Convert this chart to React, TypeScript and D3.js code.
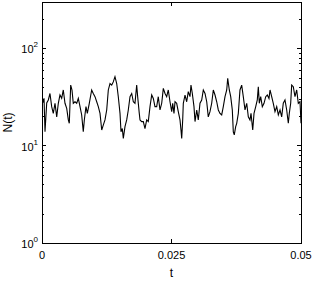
import React, { useEffect, useRef } from 'react';
import * as d3 from 'd3';

const times = [
  0.00014, 0.00039, 0.00058, 0.00091, 0.00122, 0.00154, 0.00187, 0.00218, 0.00251, 0.00284,
  0.00315, 0.00347, 0.0038, 0.00411, 0.00444, 0.00477, 0.00508, 0.00527, 0.00554, 0.00579,
  0.00604, 0.00637, 0.0067, 0.00701, 0.00734, 0.00766, 0.00797, 0.00817, 0.00849, 0.00875,
  0.00913, 0.00959, 0.0099, 0.01023, 0.01056, 0.01087, 0.0112, 0.01153, 0.01183, 0.01216,
  0.01249, 0.0128, 0.01313, 0.01346, 0.01376, 0.01409, 0.01442, 0.01473, 0.01506, 0.01525,
  0.0155, 0.0157, 0.01602, 0.01635, 0.01666, 0.01699, 0.01732, 0.01763, 0.01795, 0.01828,
  0.01847, 0.01878, 0.01892, 0.01925, 0.01956, 0.01988, 0.02021, 0.02052, 0.02085, 0.02118,
  0.02149, 0.02181, 0.02214, 0.02245, 0.02278, 0.02311, 0.02342, 0.02375, 0.02407, 0.02438,
  0.02471, 0.02504, 0.02523, 0.02548, 0.02568, 0.026, 0.02631, 0.02664, 0.02683, 0.02697,
  0.02716, 0.02728, 0.02761, 0.02793, 0.02824, 0.02857, 0.02876, 0.02902, 0.02934, 0.02954,
  0.02987, 0.03017, 0.0305, 0.03083, 0.03114, 0.03147, 0.0318, 0.0321, 0.03243, 0.03276,
  0.03307, 0.0334, 0.03373, 0.03404, 0.03436, 0.03469, 0.035, 0.03533, 0.03566, 0.03585,
  0.03616, 0.03643, 0.03674, 0.03693, 0.03712, 0.03739, 0.03759, 0.0379, 0.03822, 0.03855,
  0.03886, 0.03919, 0.03952, 0.03983, 0.04015, 0.04035, 0.04068, 0.04093, 0.04126, 0.04156,
  0.04176, 0.04195, 0.04222, 0.04253, 0.04286, 0.04319, 0.0435, 0.04382, 0.04402, 0.04434,
  0.04465, 0.04498, 0.04531, 0.04562, 0.04595, 0.04627, 0.04658, 0.04691, 0.04724, 0.04755,
  0.04774, 0.04801, 0.0482, 0.04851, 0.04884, 0.04917, 0.04948, 0.04981, 0.05,
];

// N(t)
const counts = [
  27.5, 30.7, 13.9, 27.5, 29.5, 34.4, 25.2, 21.5, 27.3, 19.8,
  27.3, 33.2, 30.7, 37.4, 27.3, 24.2, 18.4, 17.0, 42.0, 37.4,
  27.3, 28.3, 27.3, 30.6, 25.2, 20.7, 13.9, 18.4, 25.2, 21.5,
  27.3, 37.4, 34.4, 31.9, 28.3, 25.2, 21.5, 14.5, 16.3, 18.4,
  23.3, 37.4, 43.6, 42.0, 45.3, 51.3, 43.6, 31.9, 21.5, 13.9,
  15.0, 11.9, 15.7, 18.4, 23.3, 31.9, 34.4, 28.3, 27.3, 42.0,
  31.9, 21.5, 18.4, 17.7, 17.7, 15.0, 18.4, 17.7, 25.2, 33.2,
  30.6, 25.2, 25.2, 31.9, 23.3, 27.3, 38.8, 34.4, 31.9, 37.4,
  28.3, 22.4, 27.3, 21.5, 28.3, 27.3, 22.4, 18.4, 14.5, 11.9,
  18.4, 27.3, 33.2, 28.3, 36.0, 31.9, 42.0, 34.4, 25.2, 17.7,
  23.3, 18.4, 27.3, 29.5, 37.4, 34.4, 28.3, 19.8, 22.4, 27.3,
  37.4, 33.2, 28.3, 23.3, 21.5, 20.7, 25.2, 31.9, 37.4, 49.2,
  37.4, 31.9, 23.3, 13.9, 12.9, 15.7, 17.0, 21.5, 37.4, 42.0,
  31.9, 23.3, 27.3, 19.8, 18.4, 21.5, 14.5, 21.5, 25.2, 29.5,
  40.4, 27.3, 31.9, 25.2, 27.3, 31.9, 33.2, 30.6, 37.4, 31.9,
  27.3, 22.4, 25.2, 20.7, 23.3, 19.8, 27.3, 29.5, 23.3, 17.0,
  21.5, 27.3, 42.0, 40.4, 31.9, 37.4, 27.3, 28.3, 17.0,
];

const xTicks = [0, 0.025, 0.05];
const xTickLabels = ['0', '0.025', '0.05'];
const yDecades = [1, 10, 100];
const yExponents = ['0', '1', '2'];

const W = 314;
const H = 282;
const FONT = '"Liberation Sans", Arial, Helvetica, sans-serif';

export default function App() {
  const ref = useRef<SVGSVGElement>(null);

  useEffect(() => {
    const svg = d3.select(ref.current);
    svg.selectAll('*').remove();

    const left = 42, right = 301, top = 2, bottom = 243;
    const x = d3.scaleLinear().domain([0, 0.05]).range([left, right]);
    const y = d3.scaleLog().domain([1, 300]).range([bottom, top]);

    // minor ticks on the log axis
    const minor: number[] = [];
    [1, 10, 100].forEach((d) => {
      for (let k = 2; k <= 9; k++) if (d * k < 300) minor.push(d * k);
    });

    // data line
    const line = d3
      .line<number>()
      .x((_, i) => x(times[i]))
      .y((d) => y(d));
    svg
      .append('path')
      .datum(counts)
      .attr('d', line)
      .attr('fill', 'none')
      .attr('stroke', '#000')
      .attr('stroke-width', 1.1);

    const ax = svg.append('g').attr('stroke', '#000').attr('stroke-width', 1).attr('shape-rendering', 'crispEdges');

    // box
    ax.append('rect')
      .attr('x', left)
      .attr('y', top)
      .attr('width', right - left)
      .attr('height', bottom - top)
      .attr('fill', 'none');

    // y ticks, inward on both sides
    yDecades.forEach((d) => {
      ax.append('line').attr('x1', left).attr('x2', left + 4).attr('y1', y(d)).attr('y2', y(d));
      ax.append('line').attr('x1', right).attr('x2', right - 4).attr('y1', y(d)).attr('y2', y(d));
    });
    minor.forEach((d) => {
      ax.append('line').attr('x1', left).attr('x2', left + 2).attr('y1', Math.round(y(d))).attr('y2', Math.round(y(d)));
      ax.append('line').attr('x1', right).attr('x2', right - 2).attr('y1', Math.round(y(d))).attr('y2', Math.round(y(d)));
    });

    // x ticks
    xTicks.forEach((t) => {
      ax.append('line').attr('x1', x(t)).attr('x2', x(t)).attr('y1', bottom).attr('y2', bottom - 4);
      ax.append('line').attr('x1', x(t)).attr('x2', x(t)).attr('y1', top).attr('y2', top + 4);
    });

    const txt = svg.append('g').attr('font-family', FONT).attr('fill', '#000');

    xTicks.forEach((t, i) => {
      txt.append('text')
        .attr('x', x(t))
        .attr('y', bottom + 16)
        .attr('text-anchor', 'middle')
        .attr('font-size', 11)
        .text(xTickLabels[i]);
    });

    yDecades.forEach((d, i) => {
      const yy = y(d);
      const tEl = txt.append('text')
        .attr('x', left - 4)
        .attr('y', yy + 5)
        .attr('text-anchor', 'end')
        .attr('font-size', 11);
      tEl.append('tspan').text('10');
      tEl.append('tspan').attr('font-size', 8).attr('dy', -6).text(yExponents[i]);
    });

    txt.append('text')
      .attr('x', (left + right) / 2)
      .attr('y', 277)
      .attr('text-anchor', 'middle')
      .attr('font-size', 12)
      .text('t');

    txt.append('text')
      .attr('transform', `translate(12,${(top + bottom) / 2}) rotate(-90)`)
      .attr('text-anchor', 'middle')
      .attr('font-size', 12)
      .text('N(t)');
  }, []);

  return (
    <svg
      ref={ref}
      width={W}
      height={H}
      style={{ position: 'absolute', left: 0, top: 0, background: '#fff' }}
    />
  );
}
